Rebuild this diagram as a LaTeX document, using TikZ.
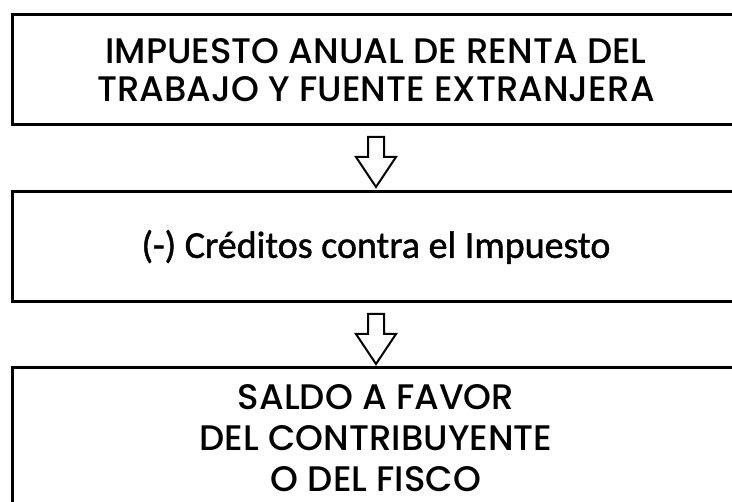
\documentclass[tikz,border=0pt]{standalone}
\usepackage{fontspec}
\setmainfont{Carlito}[FakeBold=1.2]
\newfontfamily\headfont{Poppins Medium}
\usetikzlibrary{positioning,calc}
\tikzstyle{taxbox} = [rectangle, draw=black, line width=3pt, outer sep=0pt, minimum width=728pt, minimum height=110pt, text centered, align=center]
\tikzstyle{headtext} = [font=\headfont\fontsize{35.5}{38}\selectfont]
\tikzstyle{bodytext} = [font=\fontsize{38}{40}\selectfont]
\tikzstyle{hollowarrow} = [draw=black, line width=2pt, fill=white, line join=miter]

\newcommand{\blockarrow}[1]{%
	\draw [hollowarrow] (#1) ++(-8,0) -- ++(16,0) -- ++(0,20) -- ++(12,0) -- ++(-20,30) -- ++(-20,-30) -- ++(12,0) -- cycle;}

\begin{document}
\begin{tikzpicture}[x=1pt, y=-1pt, node distance=177pt]
\useasboundingbox (0,0) rectangle (732,502);
\clip (0,0) rectangle (732,502);


% Impuesto anual

	\node (impuesto) [taxbox, headtext] at (376,70) {IMPUESTO ANUAL DE RENTA DEL\\TRABAJO Y FUENTE EXTRANJERA};


% Creditos

	\node (creditos) [taxbox, bodytext, below of=impuesto] {(-) Créditos contra el Impuesto};


% Saldo final

	\node (saldo) [taxbox, headtext, minimum height=140pt, below of=creditos, yshift=-14pt, font=\headfont\fontsize{35.5}{41}\selectfont] {SALDO A FAVOR\\DEL CONTRIBUYENTE\\O DEL FISCO};


% Arrows between boxes
	\coordinate (arrowA) at ($(impuesto.south)+(0,12)$);
	\coordinate (arrowB) at ($(creditos.south)+(0,12)$);

	\blockarrow{arrowA}
	\blockarrow{arrowB}

\end{tikzpicture}
\end{document}
